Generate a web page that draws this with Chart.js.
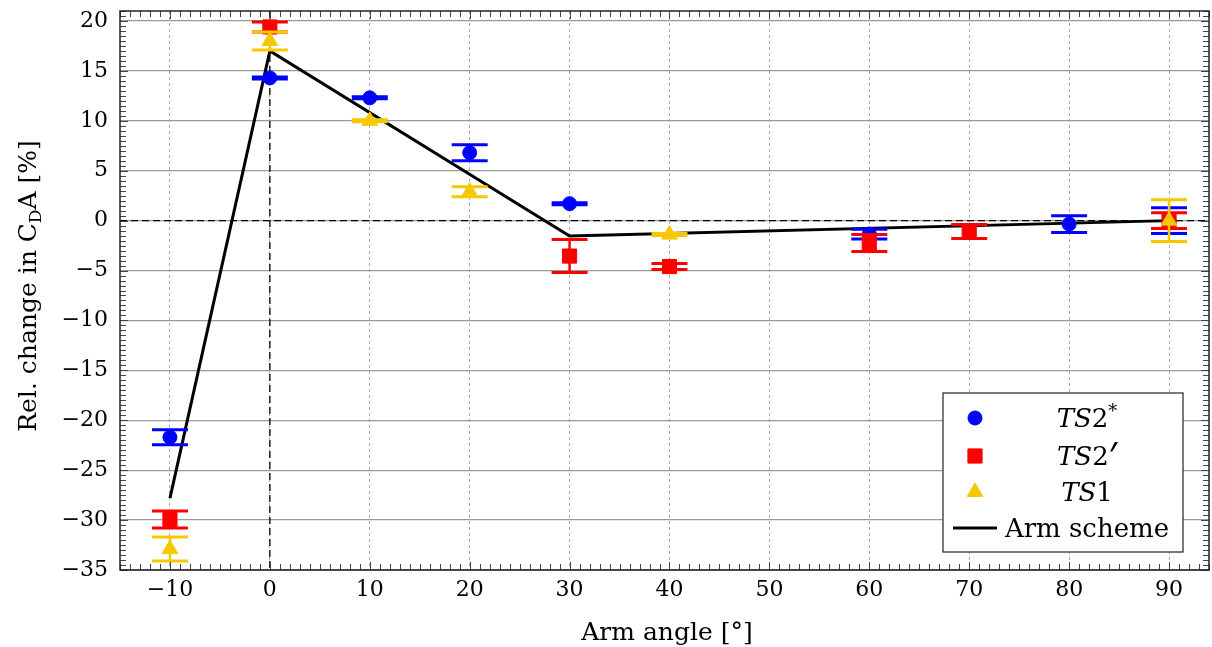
<!DOCTYPE html>
<html>
<head>
<meta charset="utf-8">
<script src="https://cdn.jsdelivr.net/npm/chart.js@4.4.0/dist/chart.umd.min.js"></script>
<style>
  html, body { margin: 0; padding: 0; background: #fff; overflow: hidden; }
  #wrap { position: relative; width: 1212px; height: 647px; overflow: hidden; }
  #grafico { display: block; }
</style>
</head>
<body>
<div id="wrap"><canvas id="grafico"></canvas></div>
<script>
// Ángulos y valores medidos por serie (cambio relativo en CDA, %)
const angTS2star = [-10, 0, 10, 20, 30, 60, 80, 90];
const valTS2star = [-21.7, 14.3, 12.3, 6.8, 1.7, -1.35, -0.35, 0.0];
const errTS2star = [0.75, 0.1, 0.1, 0.8, 0.1, 0.48, 0.85, 1.3];

const angTS2prime = [-10, 0, 30, 40, 60, 70, 90];
const valTS2prime = [-29.95, 19.4, -3.55, -4.6, -2.25, -1.1, 0.0];
const errTS2prime = [0.85, 0.5, 1.65, 0.3, 0.85, 0.7, 0.8];

const angTS1 = [-10, 0, 10, 20, 40, 90];
const valTS1 = [-32.9, 18.0, 10.0, 2.9, -1.4, 0.0];
const errTS1 = [1.2, 0.9, 0.1, 0.5, 0.1, 2.1];

// Esquema del brazo (línea negra)
const angArm = [-10, 0, 30, 90];
const valArm = [-27.8, 17.0, -1.55, 0.0];

const azul = '#0000ff';
const rojo = '#ff0000';
const dorado = '#f5c800';
const fuente = "'DejaVu Serif', serif";

// Convierte dos arreglos en puntos {x, y}
function puntos(xs, ys) {
    return xs.map((x, i) => ({ x: x, y: ys[i] }));
}

// Barras de error: se dibujan antes de los marcadores de cada serie
const barrasError = {
    id: 'barrasError',
    beforeDatasetDraw(chart, args) {
        const ds = chart.data.datasets[args.index];
        if (!ds.errores) return;
        const ctx = chart.ctx;
        const xs = chart.scales.x, ys = chart.scales.y;
        ctx.save();
        ctx.strokeStyle = ds.borderColor;
        ds.data.forEach((p, i) => {
            const e = ds.errores[i];
            const px = xs.getPixelForValue(p.x);
            const yTop = ys.getPixelForValue(p.y + e);
            const yBot = ys.getPixelForValue(p.y - e);
            ctx.lineWidth = 2.5;
            ctx.beginPath();
            ctx.moveTo(px, yTop);
            ctx.lineTo(px, yBot);
            ctx.stroke();
            ctx.lineWidth = 3;
            ctx.beginPath();
            ctx.moveTo(px - 18, yTop); ctx.lineTo(px + 18, yTop);
            ctx.moveTo(px - 18, yBot); ctx.lineTo(px + 18, yBot);
            ctx.stroke();
        });
        ctx.restore();
    }
};

// Líneas de referencia en x = 0 e y = 0, marco, ticks menores, títulos y leyenda
const decoracion = {
    id: 'decoracion',
    beforeDatasetsDraw(chart) {
        const ctx = chart.ctx, a = chart.chartArea;
        const xs = chart.scales.x, ys = chart.scales.y;
        ctx.save();
        ctx.strokeStyle = '#000';
        ctx.lineWidth = 1.3;
        ctx.setLineDash([7, 4]);
        const y0 = ys.getPixelForValue(0);
        ctx.beginPath();
        ctx.moveTo(a.left, y0); ctx.lineTo(a.right, y0);
        ctx.stroke();
        const x0 = xs.getPixelForValue(0);
        ctx.beginPath();
        ctx.moveTo(x0, a.top); ctx.lineTo(x0, a.bottom);
        ctx.stroke();
        ctx.restore();
    },
    afterDraw(chart) {
        const ctx = chart.ctx, a = chart.chartArea;
        const xs = chart.scales.x, ys = chart.scales.y;
        ctx.save();

        // ticks hacia adentro en los cuatro lados
        ctx.strokeStyle = '#444';
        ctx.lineWidth = 1;
        ctx.beginPath();
        for (let v = Math.ceil(xs.min); v <= xs.max; v++) {
            const px = Math.round(xs.getPixelForValue(v)) + 0.5;
            const len = v % 10 === 0 ? 8 : 6;
            ctx.moveTo(px, a.bottom); ctx.lineTo(px, a.bottom - len);
            ctx.moveTo(px, a.top); ctx.lineTo(px, a.top + len);
        }
        for (let v = Math.ceil(ys.min * 2) / 2; v <= ys.max; v += 0.5) {
            const py = Math.round(ys.getPixelForValue(v)) + 0.5;
            const len = v % 5 === 0 ? 8 : 6;
            ctx.moveTo(a.left, py); ctx.lineTo(a.left + len, py);
            ctx.moveTo(a.right, py); ctx.lineTo(a.right - len, py);
        }
        ctx.stroke();

        // marco
        ctx.strokeStyle = '#222';
        ctx.lineWidth = 1.5;
        ctx.strokeRect(a.left, a.top, a.right - a.left, a.bottom - a.top);

        // título eje x
        ctx.fillStyle = '#000';
        ctx.font = '25px ' + fuente;
        ctx.textAlign = 'center';
        ctx.textBaseline = 'alphabetic';
        ctx.fillText('Arm angle [°]', 667, 640);

        // título eje y con subíndice
        ctx.save();
        ctx.translate(36, 286);
        ctx.rotate(-Math.PI / 2);
        const partes = [
            { t: 'Rel. change in C', f: '25px ' + fuente, dy: 0 },
            { t: 'D', f: '17px ' + fuente, dy: 5 },
            { t: 'A [%]', f: '25px ' + fuente, dy: 0 }
        ];
        dibujarPartes(ctx, partes, 0, 0);
        ctx.restore();

        // leyenda
        const lx = 943, ly = 393, lw = 240, lh = 159;
        ctx.fillStyle = '#fff';
        ctx.fillRect(lx, ly, lw, lh);
        ctx.strokeStyle = '#333';
        ctx.lineWidth = 1.3;
        ctx.strokeRect(lx, ly, lw, lh);

        const filas = [
            { estilo: 'circle', color: azul, r: 7, partes: [
                { t: 'TS', f: 'italic 26px ' + fuente, dy: 0 },
                { t: '2', f: '26px ' + fuente, dy: 0 },
                { t: '*', f: '18px ' + fuente, dy: -10 }] },
            { estilo: 'rect', color: rojo, r: 10, partes: [
                { t: 'TS', f: 'italic 26px ' + fuente, dy: 0 },
                { t: '2', f: '26px ' + fuente, dy: 0 },
                { t: '\u2032', f: "36px 'Noto Sans', sans-serif", dy: 3 }] },
            { estilo: 'triangle', color: dorado, r: 9, partes: [
                { t: 'TS', f: 'italic 26px ' + fuente, dy: 0 },
                { t: '1', f: '26px ' + fuente, dy: 0 }] },
            { estilo: 'linea', color: '#000', partes: [
                { t: 'Arm scheme', f: '26px ' + fuente, dy: 0 }] }
        ];
        const filaY = [418, 456, 492, 528];
        filas.forEach((fila, i) => {
            const cy = filaY[i];
            if (fila.estilo === 'linea') {
                ctx.strokeStyle = '#000';
                ctx.lineWidth = 3;
                ctx.beginPath();
                ctx.moveTo(953, cy); ctx.lineTo(997, cy);
                ctx.stroke();
            } else {
                ctx.fillStyle = fila.color;
                ctx.strokeStyle = fila.color;
                ctx.lineWidth = 1;
                Chart.helpers.drawPoint(ctx, { pointStyle: fila.estilo, radius: fila.r, borderWidth: 1, rotation: 0 }, 975, cy);
            }
            ctx.fillStyle = '#000';
            dibujarPartes(ctx, fila.partes, 1087, cy + 9);
        });
        ctx.restore();
    }
};

// Dibuja un texto compuesto (cursiva, subíndices) centrado en cx
function dibujarPartes(ctx, partes, cx, base) {
    ctx.textAlign = 'left';
    ctx.textBaseline = 'alphabetic';
    let total = 0;
    partes.forEach(p => { ctx.font = p.f; total += ctx.measureText(p.t).width; });
    let x = cx - total / 2;
    partes.forEach(p => {
        ctx.font = p.f;
        ctx.fillText(p.t, x, base + p.dy);
        x += ctx.measureText(p.t).width;
    });
}

const menos = v => String(v).replace('-', '\u2212');

const grafico = new Chart(document.getElementById('grafico'), {
    type: 'scatter',
    data: {
        datasets: [
            {
                label: 'Arm scheme',
                type: 'line',
                data: puntos(angArm, valArm),
                borderColor: '#000',
                borderWidth: 3,
                pointRadius: 0,
                fill: false,
                order: 4
            },
            {
                label: 'TS2*',
                data: puntos(angTS2star, valTS2star),
                errores: errTS2star,
                pointStyle: 'circle',
                pointRadius: 7,
                backgroundColor: azul,
                borderColor: azul,
                order: 3
            },
            {
                label: "TS2'",
                data: puntos(angTS2prime, valTS2prime),
                errores: errTS2prime,
                pointStyle: 'rect',
                pointRadius: 10,
                backgroundColor: rojo,
                borderColor: rojo,
                order: 2
            },
            {
                label: 'TS1',
                data: puntos(angTS1, valTS1),
                errores: errTS1,
                pointStyle: 'triangle',
                pointRadius: 9,
                backgroundColor: dorado,
                borderColor: dorado,
                order: 1
            }
        ]
    },
    options: {
        responsive: true,
        maintainAspectRatio: false,
        animation: false,
        events: [],
        layout: { padding: { top: 10, right: 3, left: 0, bottom: 0 } },
        plugins: {
            legend: { display: false },
            tooltip: { enabled: false }
        },
        scales: {
            x: {
                type: 'linear',
                min: -15,
                max: 94,
                afterFit(scale) {
                    scale.height = 77;
                    scale.paddingLeft = 0;
                    scale.paddingRight = 0;
                },
                ticks: {
                    stepSize: 10,
                    includeBounds: false,
                    maxRotation: 0,
                    autoSkip: false,
                    padding: 7,
                    color: '#000',
                    font: { family: fuente, size: 22 },
                    callback: menos
                },
                grid: { color: '#aaaaaa', lineWidth: 1, drawTicks: false },
                border: { display: false, dash: [3, 3] }
            },
            y: {
                min: -35,
                max: 21,
                afterFit(scale) {
                    scale.width = 120;
                    scale.paddingTop = 0;
                    scale.paddingBottom = 0;
                },
                ticks: {
                    stepSize: 5,
                    includeBounds: false,
                    padding: 12,
                    color: '#000',
                    font: { family: fuente, size: 22 },
                    callback: menos
                },
                grid: { color: '#999999', lineWidth: 1.3, drawTicks: false },
                border: { display: false }
            }
        }
    },
    plugins: [barrasError, decoracion]
});

// El área de trazado debe terminar en x = 1209; se ensancha el lienzo si hace falta
const falta = 1209 - grafico.chartArea.right;
if (Math.abs(falta) > 0.5) {
    const wrap = document.getElementById('wrap');
    wrap.style.width = (1212 + falta) + 'px';
    grafico.resize();
}
</script>
</body>
</html>
